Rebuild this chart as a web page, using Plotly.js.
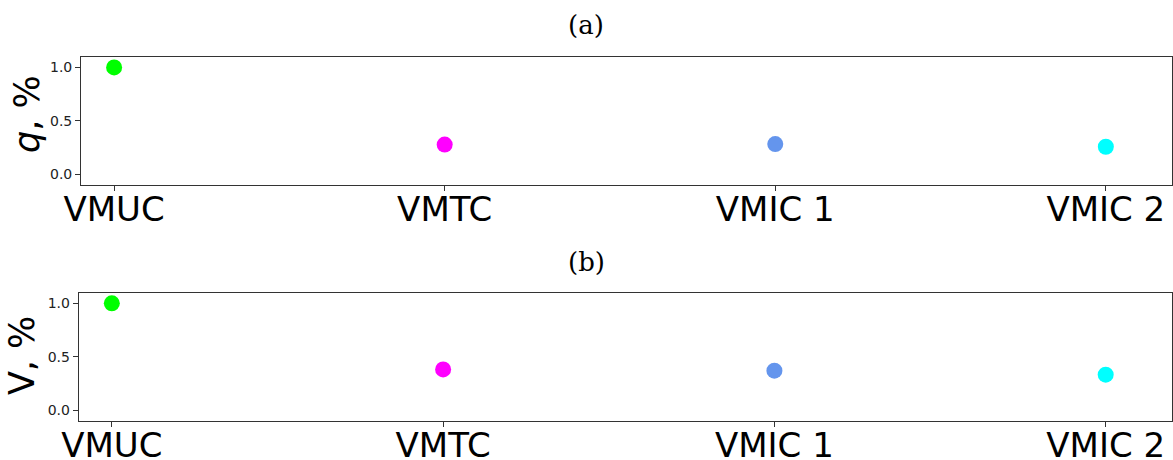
<!DOCTYPE html>
<html>
<head>
<meta charset="utf-8">
<script src="https://cdn.plot.ly/plotly-3.0.1.min.js"></script>
<style>html,body{margin:0;padding:0;background:#fff;}#chart{width:1173px;height:460px;}</style>
</head>
<body>
<div id="chart"></div>
<script>
const categories = ["VMUC", "VMTC", "VMIC 1", "VMIC 2"];
const qValues = [1.0, 0.278, 0.283, 0.258];
const vValues = [1.0, 0.381, 0.369, 0.332];
const pointColors = ["#00ff00", "#ff00ff", "#6495ed", "#00ffff"];
const yTickVals = [0.0, 0.5, 1.0];
const yTickText = ["0.0", "0.5", "1.0"];
const panelTitles = ["(a)", "(b)"];
const yLabels = ["<i>q</i>, %", "V, %"];

const traces = [
  {x: categories, y: qValues, xaxis: "x", yaxis: "y", type: "scatter", mode: "markers",
   marker: {color: pointColors, size: 16}, hoverinfo: "x+y", showlegend: false},
  {x: categories, y: vValues, xaxis: "x2", yaxis: "y2", type: "scatter", mode: "markers",
   marker: {color: pointColors, size: 16}, hoverinfo: "x+y", showlegend: false}
];

const xCommon = {
  type: "category", range: [-0.1, 3.2], showgrid: false, zeroline: false,
  showline: true, linecolor: "#333", linewidth: 1, mirror: true,
  ticks: "outside", ticklen: 5, tickcolor: "#333", tickwidth: 1,
  ticklabelstandoff: -11,
  tickfont: {family: "DejaVu Sans", size: 34, color: "#000"}, automargin: false
};
const yCommon = {
  range: [-0.1, 1.1], showgrid: false, zeroline: false,
  showline: true, linecolor: "#333", linewidth: 1, mirror: true,
  ticks: "outside", ticklen: 5, tickcolor: "#333", tickwidth: 1,
  tickvals: yTickVals, ticktext: yTickText,
  tickfont: {family: "DejaVu Sans", size: 14, color: "#222"}, automargin: false
};

const layout = {
  width: 1173, height: 460,
  margin: {l: 0, r: 0, t: 0, b: 0},
  paper_bgcolor: "#fff", plot_bgcolor: "#fff",
  showlegend: false,
  xaxis: Object.assign({}, xCommon, {domain: [0.0691, 0.9991], anchor: "y"}),
  yaxis: Object.assign({}, yCommon, {domain: [0.5978, 0.8767], anchor: "x"}),
  xaxis2: Object.assign({}, xCommon, {domain: [0.0671, 0.9991], anchor: "y2"}),
  yaxis2: Object.assign({}, yCommon, {domain: [0.0854, 0.3637], anchor: "x2"}),
  annotations: [
    {text: panelTitles[0], xref: "paper", yref: "paper", x: 0.4996, y: 0.9457,
     xanchor: "center", yanchor: "middle", showarrow: false,
     font: {family: "DejaVu Serif", size: 26, color: "#000"}},
    {text: panelTitles[1], xref: "paper", yref: "paper", x: 0.4996, y: 0.4304,
     xanchor: "center", yanchor: "middle", showarrow: false,
     font: {family: "DejaVu Serif", size: 26, color: "#000"}},
    {text: yLabels[0], xref: "paper", yref: "paper", x: 0.023, y: 0.752,
     xanchor: "center", yanchor: "middle", showarrow: false, textangle: -90,
     font: {family: "DejaVu Sans", size: 35, color: "#000"}},
    {text: yLabels[1], xref: "paper", yref: "paper", x: 0.0188, y: 0.226,
     xanchor: "center", yanchor: "middle", showarrow: false, textangle: -90,
     font: {family: "DejaVu Sans", size: 35, color: "#000"}}
  ]
};

Plotly.newPlot("chart", traces, layout, {displayModeBar: false, staticPlot: true});
</script>
</body>
</html>
